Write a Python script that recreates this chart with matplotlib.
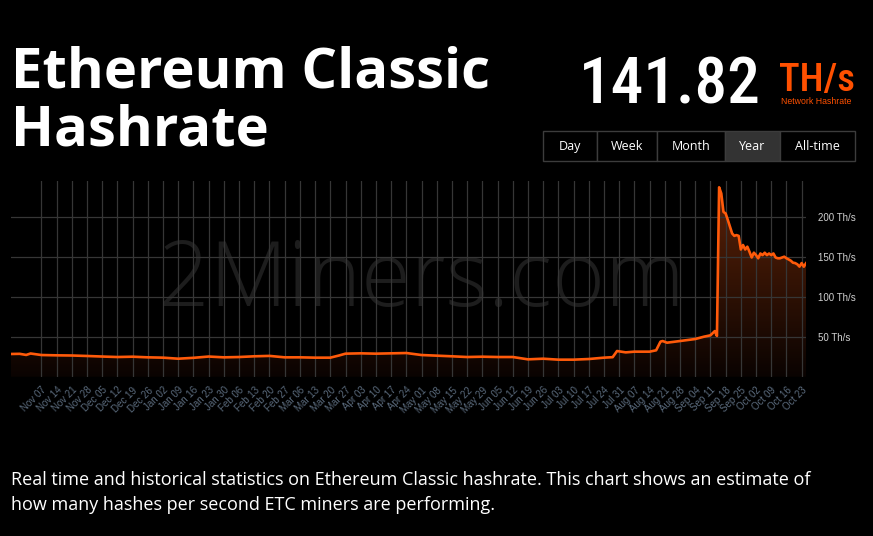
import matplotlib
matplotlib.use("Agg")
import matplotlib.pyplot as plt
import matplotlib.dates as mdates
from matplotlib.patches import Rectangle
from matplotlib.colors import LinearSegmentedColormap
import numpy as np
import pandas as pd

# ---------------- data ----------------
dates = [
    "2021-10-24", "2021-10-28", "2021-10-31", "2021-11-02", "2021-11-07", "2021-11-14",
    "2021-11-21", "2021-11-28", "2021-12-05", "2021-12-12", "2021-12-19", "2021-12-26",
    "2022-01-02", "2022-01-09", "2022-01-16", "2022-01-23", "2022-01-30", "2022-02-06",
    "2022-02-13", "2022-02-20", "2022-02-27", "2022-03-06", "2022-03-13", "2022-03-20",
    "2022-03-24", "2022-03-27", "2022-04-03", "2022-04-10", "2022-04-17", "2022-04-24",
    "2022-05-01", "2022-05-08", "2022-05-15", "2022-05-22", "2022-05-29", "2022-06-05",
    "2022-06-12", "2022-06-19", "2022-06-26", "2022-07-03", "2022-07-10", "2022-07-17",
    "2022-07-24", "2022-07-28", "2022-07-30", "2022-08-03", "2022-08-07", "2022-08-14",
    "2022-08-17", "2022-08-19", "2022-08-20", "2022-08-22", "2022-08-28", "2022-09-04",
    "2022-09-08", "2022-09-11", "2022-09-13", "2022-09-14", "2022-09-15", "2022-09-16",
    "2022-09-17", "2022-09-18", "2022-09-19", "2022-09-20", "2022-09-21", "2022-09-22",
    "2022-09-23", "2022-09-24", "2022-09-25", "2022-09-26", "2022-09-27", "2022-09-28",
    "2022-09-29", "2022-09-30", "2022-10-01", "2022-10-02", "2022-10-03", "2022-10-04",
    "2022-10-05", "2022-10-06", "2022-10-07", "2022-10-08", "2022-10-09", "2022-10-10",
    "2022-10-11", "2022-10-12", "2022-10-13", "2022-10-14", "2022-10-15", "2022-10-16",
    "2022-10-17", "2022-10-18", "2022-10-19", "2022-10-20", "2022-10-21", "2022-10-22",
    "2022-10-23", "2022-10-24", "2022-10-25",
]
hashrate = [
    28.4, 28.6, 27.2, 29.0, 27.1, 26.7,
    26.5, 25.9, 25.2, 24.6, 25.0, 24.2,
    23.8, 22.5, 23.6, 25.2, 24.2, 24.6,
    25.5, 26.0, 24.2, 24.2, 23.8, 23.8,
    26.5, 28.8, 29.2, 28.8, 29.2, 29.6,
    27.1, 26.3, 25.5, 24.6, 25.0, 24.6,
    24.6, 21.7, 22.5, 21.3, 21.3, 22.1,
    23.8, 24.4, 32.1, 30.4, 31.3, 31.3,
    33.0, 43.8, 44.6, 42.5, 44.6, 47.1,
    50.0, 51.7, 57.0, 51.0, 236.7, 229.0,
    206.0, 204.0, 196.0, 187.5, 179.0, 176.0,
    177.0, 176.0, 159.0, 164.6, 159.0, 162.5,
    156.0, 149.0, 155.0, 152.0, 148.0, 154.0,
    152.0, 155.0, 152.0, 154.0, 152.0, 154.0,
    149.0, 148.0, 148.0, 149.0, 150.0, 148.0,
    146.6, 145.0, 142.5, 142.0, 140.5, 137.6,
    142.0, 137.5, 141.8,
]
ytick_values = [50, 100, 150, 200]
ytick_labels = ["50 Th/s", "100 Th/s", "150 Th/s", "200 Th/s"]
xtick_start = "2021-11-07"
xtick_end = "2022-10-23"

current_value = "141.82"
unit = "TH/s"
period_buttons = ["Day", "Week", "Month", "Year", "All-time"]
active_button = "Year"

# ---------------- figure ----------------
W, H = 873, 536
fig = plt.figure(figsize=(W / 100, H / 100), dpi=100, facecolor="black")

def fx(px):
    return px / W

def fy(py):
    return 1 - py / H

ORANGE = "#ff5a0a"
COND = ["Noto Sans ExtraCondensed", "Noto Sans Condensed", "Roboto Condensed",
        "Open Sans Condensed", "Noto Sans", "DejaVu Sans"]

ax_left, ax_right, ax_top, ax_bottom = 11, 806, 181, 376.7
ax = fig.add_axes([fx(ax_left), fy(ax_bottom), (ax_right - ax_left) / W, (ax_bottom - ax_top) / H])
ax.set_facecolor("black")

x = pd.to_datetime(dates)
y = np.array(hashrate)
xn = mdates.date2num(x)

ymax = 244.6
ax.set_xlim(xn[0], xn[-1])
ax.set_ylim(0, ymax)

# watermark
ax.text(0.516, 0.36, "2Miners.com", transform=ax.transAxes, ha="center", va="baseline",
        fontsize=65, color="#1d1d1d", family="Open Sans", fontweight="light", zorder=0.2)

# gradient fill under line
cmap = LinearSegmentedColormap.from_list(
    "g", [(0, (10 / 255, 3 / 255, 1 / 255)), (1, (95 / 255, 35 / 255, 8 / 255))])
grad = np.linspace(0, 1, 256).reshape(-1, 1)
im = ax.imshow(grad, extent=[xn[0], xn[-1], 0, ymax], origin="lower", aspect="auto",
               cmap=cmap, zorder=1, interpolation="bilinear")
poly = ax.fill_between(xn, y, 0, facecolor="none", edgecolor="none")
im.set_clip_path(poly.get_paths()[0], transform=ax.transData)

ax.plot(xn, y, color=ORANGE, lw=1.9, zorder=3, solid_joinstyle="round")

# grid
weeks = pd.date_range(xtick_start, xtick_end, freq="7D")
ax.set_xticks(mdates.date2num(weeks))
ax.set_xticklabels([d.strftime("%b %d") for d in weeks], rotation=45, ha="right",
                   rotation_mode="anchor", fontsize=7, color="#5a6a7c", family="Liberation Sans")
ax.set_yticks(ytick_values)
ax.set_yticklabels(ytick_labels, fontsize=7, color="#d0d0d0", family="Liberation Sans")
ax.yaxis.tick_right()
ax.tick_params(axis="both", length=0)
ax.tick_params(axis="x", pad=6)
ax.tick_params(axis="y", pad=9)
ax.set_axisbelow(False)
ax.grid(True, color="#363636", lw=0.9)
for s in ax.spines.values():
    s.set_visible(False)

# ---------------- header ----------------
fig.text(fx(11), fy(88), "Ethereum Classic", color="white", fontsize=40.5, fontweight="bold",
         family="Open Sans", va="baseline", ha="left")
fig.text(fx(11), fy(146), "Hashrate", color="white", fontsize=40.5, fontweight="bold",
         family="Open Sans", va="baseline", ha="left")

fig.text(fx(761), fy(103), current_value, color="white", fontsize=47, fontweight="medium",
         family=COND, fontstretch="ultra-condensed", va="baseline", ha="right")
fig.text(fx(779), fy(91), unit, color="#ff5000", fontsize=28, fontweight="medium",
         family=COND, fontstretch="ultra-condensed", va="baseline", ha="left")
fig.text(fx(781), fy(104), "Network Hashrate", color="#ff5000", fontsize=6.3,
         family="Liberation Sans", va="baseline", ha="left")

# buttons
edges = [543, 597, 657, 725, 780, 855]
btop, bbot = 131, 161
for i, lab in enumerate(period_buttons):
    x0, x1 = edges[i], edges[i + 1]
    fc = "#333333" if lab == active_button else "black"
    fig.patches.append(Rectangle((fx(x0), fy(bbot)), (x1 - x0) / W, (bbot - btop) / H,
                                 transform=fig.transFigure, facecolor=fc,
                                 edgecolor="#3c3c3c", lw=1.0))
    fig.text(fx((x0 + x1) / 2), fy((btop + bbot) / 2 + 0.5), lab, color="white", fontsize=9,
             family="Open Sans", ha="center", va="center")

# description
fig.text(fx(11), fy(485), "Real time and historical statistics on Ethereum Classic hashrate. "
         "This chart shows an estimate of", color="white", fontsize=13, family="Open Sans",
         va="baseline", ha="left")
fig.text(fx(11), fy(510), "how many hashes per second ETC miners are performing.",
         color="white", fontsize=13, family="Open Sans", va="baseline", ha="left")

fig.savefig("out.png", dpi=100, facecolor="black")
